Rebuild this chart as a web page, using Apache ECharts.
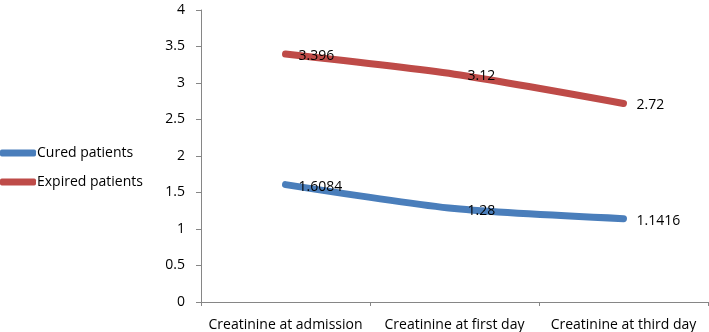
<!DOCTYPE html>
<html>
<head>
<meta charset="utf-8">
<script src="https://cdn.jsdelivr.net/npm/echarts@6/dist/echarts.min.js"></script>
<style>
  html, body { margin: 0; padding: 0; background: #fff; }
  #chart { width: 709px; height: 332px; }
</style>
</head>
<body>
<div id="chart"></div>
<script>
// 数据
var categories = ['Creatinine at admission', 'Creatinine at first day', 'Creatinine at third day'];
var curedValues = [1.6084, 1.28, 1.1416];
var expiredValues = [3.396, 3.12, 2.72];
var seriesNames = ['Cured patients', 'Expired patients'];

var myChart = echarts.init(document.getElementById('chart'));

// 数据标签：放在点的右侧
var labelStyle = {
    show: true,
    position: 'right',
    distance: 12,
    offset: [0, 2],
    color: '#000',
    fontFamily: 'Open Sans',
    fontSize: 14
};

var option = {
    animation: false,
    textStyle: { fontFamily: 'Open Sans' },
    legend: {
        orient: 'vertical',
        left: 0,
        top: 146,
        padding: 0,
        itemWidth: 36,
        itemHeight: 7,
        itemGap: 15,
        icon: 'roundRect',
        textStyle: { color: '#000', fontSize: 14, padding: [0, 0, 0, -4] },
        data: seriesNames
    },
    grid: {
        left: 201,
        right: 1,
        top: 10,
        bottom: 29
    },
    xAxis: {
        type: 'category',
        data: categories,
        boundaryGap: true,
        axisLine: { lineStyle: { color: '#868686' } },
        axisTick: { show: true, length: 4, lineStyle: { color: '#868686' } },
        axisLabel: { color: '#000', fontSize: 14, margin: 16, interval: 0 }
    },
    yAxis: {
        type: 'value',
        min: 0,
        max: 4,
        interval: 0.5,
        axisLine: { show: true, lineStyle: { color: '#868686' } },
        axisTick: { show: true, length: 5, lineStyle: { color: '#868686' } },
        axisLabel: { color: '#000', fontSize: 14, margin: 16 },
        splitLine: { show: false }
    },
    series: [
        {
            name: seriesNames[0],
            type: 'line',
            data: curedValues,
            symbol: 'circle',
            symbolSize: 2,
            smooth: 0.25,
            lineStyle: { width: 7, color: '#4A7EBB', cap: 'round', join: 'round' },
            itemStyle: { color: '#4A7EBB' },
            label: labelStyle
        },
        {
            name: seriesNames[1],
            type: 'line',
            data: expiredValues,
            symbol: 'circle',
            symbolSize: 2,
            smooth: 0.25,
            lineStyle: { width: 7, color: '#BE4B48', cap: 'round', join: 'round' },
            itemStyle: { color: '#BE4B48' },
            label: labelStyle
        }
    ]
};

myChart.setOption(option);
</script>
</body>
</html>
